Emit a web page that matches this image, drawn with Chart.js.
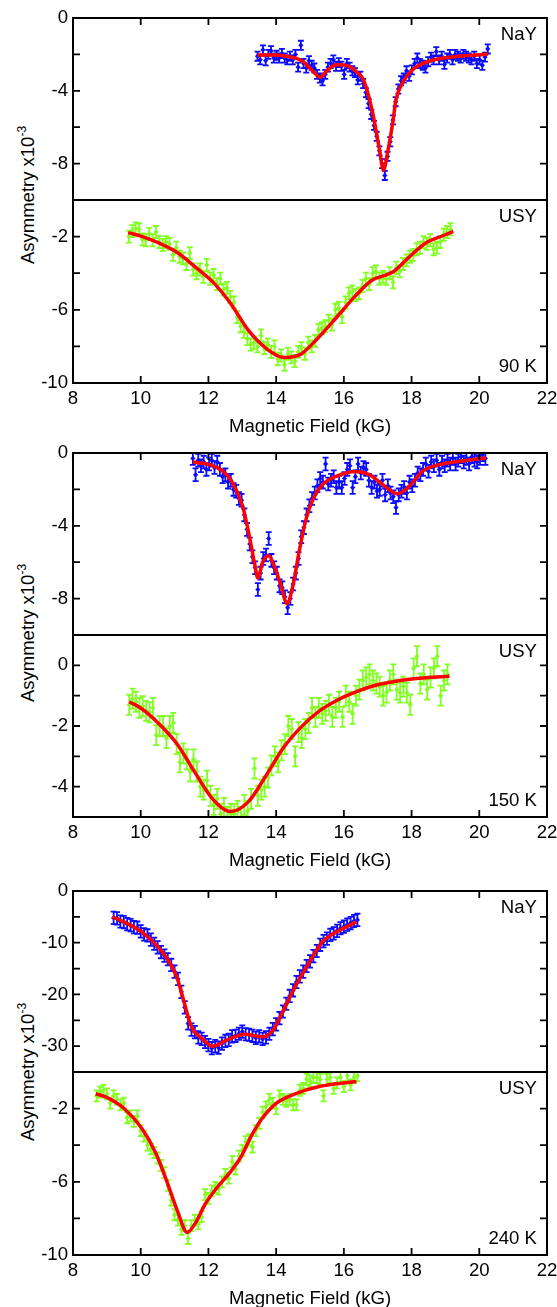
<!DOCTYPE html>
<html>
<head>
<meta charset="utf-8">
<script src="https://cdn.jsdelivr.net/npm/chart.js@4.4.1/dist/chart.umd.min.js"></script>
<style>
  body { margin: 0; background: #fff; width: 557px; height: 1307px; position: relative; overflow: hidden;
         font-family: "Liberation Sans", Arial, sans-serif; }
  canvas { position: absolute; left: 0; top: 0; }
  .ylab { position: absolute; left: 27px; font-size: 18.5px; white-space: nowrap; color: #000;
          transform: translate(-50%, -50%) rotate(-90deg); }
  .ylab sup { font-size: 12px; }
</style>
</head>
<body>
<div class="ylab" style="top:195px">Asymmetry x10<sup>-3</sup></div>
<div class="ylab" style="top:633px">Asymmetry x10<sup>-3</sup></div>
<div class="ylab" style="top:1072px">Asymmetry x10<sup>-3</sup></div>
<script>
// ---- 90 K ----
const nay90Field = [13.45,13.53,13.61,13.69,13.77,13.85,13.93,14.01,14.09,14.17,
  14.25,14.33,14.41,14.49,14.57,14.65,14.73,14.81,14.89,14.97,
  15.05,15.13,15.21,15.29,15.37,15.45,15.53,15.61,15.69,15.77,
  15.85,15.93,16.01,16.09,16.17,16.25,16.33,16.41,16.49,16.57,
  16.65,16.73,16.81,16.89,16.97,17.05,17.13,17.21,17.29,17.37,
  17.45,17.53,17.61,17.69,17.77,17.85,17.93,18.01,18.09,18.17,
  18.25,18.33,18.41,18.49,18.57,18.65,18.73,18.81,18.89,18.97,
  19.05,19.13,19.21,19.29,19.37,19.45,19.53,19.61,19.69,19.77,
  19.85,19.93,20.01,20.09,20.17,20.25];
const nay90Asym = [-2.1,-2.3,-1.75,-2.35,-2.0,-1.8,-2.2,-2.05,-2.2,-1.95,
  -2.2,-2.3,-2.1,-2.3,-2.0,-2.7,-1.5,-2.5,-2.75,-2.35,
  -2.6,-2.75,-3.1,-3.3,-3.45,-3.1,-2.7,-2.5,-2.3,-2.65,
  -2.45,-2.65,-3.1,-2.5,-2.7,-2.9,-3.0,-3.4,-3.2,-3.6,
  -4.1,-4.7,-5.3,-5.9,-6.5,-7.3,-8.0,-8.65,-7.6,-6.8,
  -5.6,-4.6,-3.9,-3.45,-3.3,-2.9,-3.2,-2.85,-2.5,-2.2,
  -2.5,-2.6,-2.75,-2.4,-2.15,-2.3,-1.85,-2.3,-2.1,-2.55,
  -2.2,-2.0,-2.3,-2.0,-2.1,-2.2,-2.0,-2.1,-2.2,-2.3,
  -2.1,-2.5,-2.3,-2.6,-2.15,-1.7];
const nay90Err = 0.25;
const nay90FitField = [13.45,14.0,14.3,14.6,14.8,15.05,15.3,15.5,15.77,16.0,16.2,16.4,16.55,
  16.65,16.85,17.05,17.17,17.3,17.44,17.54,17.73,18.03,18.5,19.2,19.8,20.26];
const nay90FitAsym = [-2.03,-2.03,-2.1,-2.22,-2.4,-2.85,-3.25,-2.9,-2.57,-2.58,-2.7,-3.0,-3.3,
  -3.75,-5.2,-7.2,-8.35,-7.3,-5.8,-4.5,-3.57,-2.84,-2.38,-2.14,-2.05,-1.98];
const nay90Ticks = [0, -4, -8];

const usy90Field = [9.65,9.75,9.85,9.95,10.05,10.15,10.25,10.35,10.45,10.55,
  10.65,10.75,10.85,10.95,11.05,11.15,11.25,11.35,11.45,11.55,
  11.65,11.75,11.85,11.95,12.05,12.15,12.25,12.35,12.45,12.55,
  12.65,12.75,12.85,12.95,13.05,13.15,13.25,13.35,13.45,13.55,
  13.65,13.75,13.85,13.95,14.05,14.15,14.25,14.35,14.45,14.55,
  14.65,14.75,14.85,14.95,15.05,15.15,15.25,15.35,15.45,15.55,
  15.65,15.75,15.85,15.95,16.05,16.15,16.25,16.35,16.45,16.55,
  16.65,16.75,16.85,16.95,17.05,17.15,17.25,17.35,17.45,17.55,
  17.65,17.75,17.85,17.95,18.05,18.15,18.25,18.35,18.45,18.55,
  18.65,18.75,18.85,18.95,19.05,19.15];
const usy90Asym = [-2.0,-1.7,-1.55,-1.6,-2.15,-2.2,-1.85,-2.2,-1.75,-2.3,
  -2.45,-2.3,-2.4,-3.0,-2.6,-3.1,-3.2,-3.5,-2.9,-3.8,
  -4.0,-3.8,-4.2,-3.55,-4.3,-4.1,-4.6,-4.3,-4.9,-4.8,
  -5.3,-5.6,-6.4,-6.9,-7.2,-7.6,-7.9,-7.8,-8.0,-7.4,
  -8.1,-7.9,-8.3,-8.0,-8.7,-8.5,-9.0,-8.4,-8.6,-8.8,
  -8.3,-8.1,-8.4,-7.8,-8.0,-7.7,-7.1,-7.0,-6.9,-6.6,
  -6.8,-6.0,-5.9,-6.4,-5.6,-5.1,-5.0,-5.2,-5.1,-4.7,
  -4.3,-4.6,-4.0,-3.9,-4.3,-4.2,-4.3,-4.0,-4.5,-3.7,
  -3.9,-3.5,-3.3,-3.1,-3.0,-2.7,-2.6,-2.3,-2.4,-2.2,
  -2.7,-2.6,-2.3,-1.9,-1.75,-1.6];
const usy90Err = 0.33;
const usy90FitField = [9.63,10.03,10.55,11.08,11.6,12.12,12.65,13.17,13.7,14.22,14.54,14.75,
  15.27,15.8,16.32,16.84,17.16,17.47,17.89,18.41,18.94,19.23];
const usy90FitAsym = [-1.78,-1.99,-2.36,-2.87,-3.64,-4.46,-5.64,-7.1,-8.1,-8.6,-8.55,-8.4,
  -7.47,-6.38,-5.28,-4.37,-4.15,-3.91,-3.18,-2.36,-1.94,-1.72];
const usy90Ticks = [-2, -6, -10];

// ---- 150 K ----
const nay150Field = [11.54,11.62,11.70,11.78,11.86,11.94,12.02,12.10,12.18,12.26,
  12.34,12.42,12.50,12.58,12.66,12.74,12.82,12.90,12.98,13.06,
  13.14,13.22,13.30,13.38,13.46,13.54,13.62,13.70,13.78,13.86,
  13.94,14.02,14.10,14.18,14.26,14.34,14.42,14.50,14.58,14.66,
  14.74,14.82,14.90,14.98,15.06,15.14,15.22,15.30,15.38,15.46,
  15.54,15.62,15.70,15.78,15.86,15.94,16.02,16.10,16.18,16.26,
  16.34,16.42,16.50,16.58,16.66,16.74,16.82,16.90,16.98,17.06,
  17.14,17.22,17.30,17.38,17.46,17.54,17.62,17.70,17.78,17.86,
  17.94,18.02,18.10,18.18,18.26,18.34,18.42,18.50,18.58,18.66,
  18.74,18.82,18.90,18.98,19.06,19.14,19.22,19.30,19.38,19.46,
  19.54,19.62,19.70,19.78,19.86,19.94,20.02,20.10,20.18];
const nay150Asym = [-0.3,-1.2,-0.4,-0.7,-0.5,-0.9,-0.6,-0.4,-0.8,-0.5,
  -0.9,-1.3,-1.2,-1.6,-1.5,-2.0,-2.1,-2.5,-2.6,-3.4,
  -4.2,-5.0,-5.7,-6.3,-7.5,-6.6,-5.8,-5.6,-4.7,-5.9,
  -6.3,-6.6,-7.3,-7.4,-7.9,-8.5,-8.0,-7.2,-6.6,-5.8,
  -4.6,-4.1,-3.4,-2.9,-2.5,-2.2,-1.8,-1.4,-1.6,-0.6,
  -1.7,-1.5,-1.3,-1.9,-1.6,-1.9,-1.4,-0.9,-0.7,-1.9,
  -1.3,-0.6,-1.1,-0.8,-0.9,-1.5,-1.9,-1.6,-2.1,-2.0,
  -1.5,-2.3,-1.8,-2.2,-2.4,-3.0,-2.3,-2.1,-1.9,-2.2,
  -1.6,-1.8,-1.5,-1.1,-1.2,-0.9,-0.6,-1.0,-0.5,-0.7,
  -0.4,-0.9,-0.5,-0.7,-0.4,-0.6,-0.3,-0.6,-0.4,-0.2,
  -0.5,-0.3,-0.6,-0.2,-0.4,-0.5,-0.3,-0.1,-0.3];
const nay150Err = 0.35;
const nay150FitField = [11.54,12.03,12.43,12.72,13.01,13.21,13.36,13.46,13.6,13.78,13.95,14.15,
  14.32,14.49,14.69,14.88,15.08,15.37,15.77,16.36,16.75,17.15,17.59,17.93,18.32,18.82,19.6,20.2];
const nay150FitAsym = [-0.5,-0.64,-1.0,-1.65,-2.93,-4.58,-6.04,-6.87,-6.0,-5.64,-6.23,-7.33,
  -8.28,-7.33,-5.31,-3.66,-2.57,-1.74,-1.29,-1.02,-1.19,-1.74,-2.24,-1.83,-1.01,-0.64,-0.41,-0.27];
const nay150Ticks = [0, -4, -8];

const usy150Field = [9.66,9.76,9.86,9.96,10.06,10.16,10.26,10.36,10.46,10.56,
  10.66,10.76,10.86,10.96,11.06,11.16,11.26,11.36,11.46,11.56,
  11.66,11.76,11.86,11.96,12.06,12.16,12.26,12.36,12.46,12.56,
  12.66,12.76,12.86,12.96,13.06,13.16,13.26,13.36,13.46,13.56,
  13.66,13.76,13.86,13.96,14.06,14.16,14.26,14.36,14.46,14.56,
  14.66,14.76,14.86,14.96,15.06,15.16,15.26,15.36,15.46,15.56,
  15.66,15.76,15.86,15.96,16.06,16.16,16.26,16.36,16.46,16.56,
  16.66,16.76,16.86,16.96,17.06,17.16,17.26,17.36,17.46,17.56,
  17.66,17.76,17.86,17.96,18.06,18.16,18.26,18.36,18.46,18.56,
  18.66,18.76,18.86,18.96,19.06];
const usy150Asym = [-1.3,-1.1,-1.2,-1.4,-1.35,-1.5,-1.55,-1.4,-2.3,-2.0,
  -2.0,-2.4,-2.0,-1.9,-2.6,-3.2,-2.9,-3.1,-3.5,-3.1,
  -3.5,-4.0,-4.1,-3.8,-4.3,-4.6,-4.4,-4.9,-4.7,-5.0,
  -4.9,-4.9,-4.8,-5.0,-4.6,-4.8,-4.4,-3.4,-4.3,-4.1,
  -4.0,-3.7,-3.3,-3.0,-3.2,-2.8,-2.6,-2.0,-2.1,-3.0,
  -2.2,-2.4,-2.1,-1.9,-1.4,-1.7,-1.4,-1.6,-1.5,-1.3,
  -1.7,-1.4,-1.2,-1.7,-1.0,-1.2,-1.6,-1.0,-0.8,-0.5,
  -0.4,-0.3,-0.5,-0.6,-0.7,-1.0,-0.9,-0.5,-0.3,-0.8,
  -0.9,-0.7,-0.9,-1.3,-0.1,0.3,-0.6,-0.3,-0.8,-0.4,
  -0.1,0.3,-1.0,-0.5,-0.3];
const usy150Err = 0.33;
const usy150FitField = [9.66,10.03,10.55,11.08,11.6,12.12,12.65,13.17,13.7,14.22,14.75,15.27,
  15.8,16.32,16.84,17.37,17.89,18.41,19.12];
const usy150FitAsym = [-1.2,-1.43,-1.94,-2.6,-3.53,-4.4,-4.82,-4.51,-3.64,-2.71,-2.02,-1.51,
  -1.15,-0.89,-0.69,-0.56,-0.47,-0.41,-0.36];
const usy150Ticks = [0, -2, -4];

// ---- 240 K ----
const nay240Field = [9.2,9.3,9.4,9.5,9.6,9.7,9.8,9.9,10.0,10.1,
  10.2,10.3,10.4,10.5,10.6,10.7,10.8,10.9,11.0,11.1,
  11.2,11.3,11.4,11.5,11.6,11.7,11.8,11.9,12.0,12.1,
  12.2,12.3,12.4,12.5,12.6,12.7,12.8,12.9,13.0,13.1,
  13.2,13.3,13.4,13.5,13.6,13.7,13.8,13.9,14.0,14.1,
  14.2,14.3,14.4,14.5,14.6,14.7,14.8,14.9,15.0,15.1,
  15.2,15.3,15.4,15.5,15.6,15.7,15.8,15.9,16.0,16.1,
  16.2,16.3,16.4];
const nay240Asym = [-5.2,-5.3,-5.9,-6.0,-6.4,-6.6,-7.0,-7.1,-7.8,-8.4,
  -8.6,-9.4,-10.2,-10.9,-11.8,-12.5,-13.2,-14.3,-15.6,-17.0,
  -19.5,-22.5,-25.6,-26.8,-27.3,-28.3,-28.6,-29.2,-29.8,-30.4,
  -30.0,-30.3,-29.5,-29.0,-28.8,-28.1,-28.0,-27.6,-27.2,-27.7,
  -27.8,-28.0,-28.4,-28.1,-28.6,-28.3,-27.6,-26.7,-25.8,-24.6,
  -23.3,-21.8,-20.3,-19.2,-17.6,-16.5,-15.6,-14.5,-13.6,-12.6,
  -11.6,-10.4,-9.7,-9.2,-8.5,-8.2,-7.7,-7.2,-6.9,-6.5,
  -6.2,-5.8,-5.6];
const nay240Err = 1.2;
const nay240FitField = [9.17,9.5,10.03,10.55,10.87,11.08,11.29,11.5,11.81,12.12,12.55,13.07,
  13.59,13.91,14.22,14.54,14.96,15.37,15.79,16.37];
const nay240FitAsym = [-5.0,-5.98,-7.9,-11.1,-14.0,-16.9,-21.7,-26.3,-28.5,-30.0,-28.8,-27.7,
  -28.2,-26.9,-23.0,-18.8,-14.0,-9.8,-7.9,-5.98];
const nay240Ticks = [0, -10, -20, -30];

const usy240Field = [8.7,8.8,8.9,9.0,9.1,9.2,9.3,9.4,9.5,9.6,
  9.7,9.8,9.9,10.0,10.1,10.2,10.3,10.4,10.5,10.6,
  10.7,10.8,10.9,11.0,11.1,11.2,11.3,11.4,11.5,11.6,
  11.7,11.8,11.9,12.0,12.1,12.2,12.3,12.4,12.5,12.6,
  12.7,12.8,12.9,13.0,13.1,13.2,13.3,13.4,13.5,13.6,
  13.7,13.8,13.9,14.0,14.1,14.2,14.3,14.4,14.5,14.6,
  14.7,14.8,14.9,15.0,15.1,15.2,15.3,15.4,15.5,15.6,
  15.7,15.8,15.9,16.0,16.1,16.2,16.3,16.4];
const usy240Asym = [-1.3,-1.1,-1.0,-1.2,-1.7,-1.3,-1.5,-1.8,-1.7,-2.5,
  -2.4,-2.7,-2.4,-3.2,-3.5,-4.0,-4.2,-4.4,-4.7,-5.1,
  -5.5,-6.2,-7.0,-7.8,-8.1,-8.6,-8.4,-9.1,-8.4,-8.1,
  -8.3,-7.9,-6.7,-6.9,-6.5,-6.3,-6.4,-6.0,-5.6,-5.8,
  -4.9,-5.3,-4.6,-4.3,-3.8,-3.7,-4.1,-3.2,-2.8,-2.2,
  -1.9,-1.5,-1.7,-2.0,-1.3,-1.5,-1.6,-1.5,-1.8,-1.8,
  -1.0,-0.9,-0.4,-0.5,-0.3,-0.3,-0.4,-1.3,-0.4,-0.3,
  -0.9,-0.6,-0.3,-0.8,-0.2,-0.7,-0.3,-0.2];
const usy240Err = 0.3;
const usy240FitField = [8.67,8.98,9.5,10.03,10.45,10.76,11.08,11.37,11.6,11.91,12.23,12.65,
  12.96,13.28,13.59,14.01,14.54,15.27,16.37];
const usy240FitAsym = [-1.19,-1.37,-1.98,-3.08,-4.45,-5.92,-7.57,-8.76,-8.3,-7.2,-6.37,-5.46,
  -4.64,-3.45,-2.53,-1.7,-1.21,-0.79,-0.52];
const usy240Ticks = [-2, -6, -10];

const BLUE = "#0a0aff";
const GREEN = "#80ff20";
const RED = "#ff0000";
const FONT = '"Liberation Sans", Arial, sans-serif';
const FS = 18.6;
const PAD = 20, PLOT_L = 73, PLOT_W = 474, X_H = 55;

Chart.defaults.font.family = FONT;
Chart.defaults.color = "#000";

function zip(xs, ys) {
    return xs.map((x, i) => ({ x: x, y: ys[i] }));
}

// frame, inward ticks, error bars and panel tags
const panelDeco = {
    id: "panelDeco",
    beforeDatasetsDraw(chart, args, opts) {
        const { ctx, chartArea: a, scales: { x, y } } = chart;
        const ds = chart.data.datasets[1];
        ctx.save();
        ctx.beginPath();
        ctx.rect(a.left, a.top, a.width, a.height);
        ctx.clip();
        ctx.strokeStyle = ds.backgroundColor;
        ctx.lineWidth = 1.8;
        ds.data.forEach(p => {
            const px = x.getPixelForValue(p.x);
            const y1 = y.getPixelForValue(p.y - opts.err);
            const y2 = y.getPixelForValue(p.y + opts.err);
            ctx.beginPath();
            ctx.moveTo(px, y1); ctx.lineTo(px, y2);
            ctx.moveTo(px - 3, y1); ctx.lineTo(px + 3, y1);
            ctx.moveTo(px - 3, y2); ctx.lineTo(px + 3, y2);
            ctx.stroke();
        });
        ctx.restore();
    },
    afterDraw(chart, args, opts) {
        const { ctx, chartArea: a, scales: { x, y } } = chart;
        ctx.save();
        ctx.strokeStyle = "#000";
        ctx.lineWidth = 2;
        ctx.strokeRect(a.left, a.top, a.width, a.height);
        ctx.lineWidth = 1.8;
        ctx.beginPath();
        y.ticks.forEach(t => {
            if (t.value <= y.min || t.value >= y.max) return;
            const py = y.getPixelForValue(t.value);
            ctx.moveTo(a.left, py); ctx.lineTo(a.left + 7, py);
            ctx.moveTo(a.right, py); ctx.lineTo(a.right - 7, py);
        });
        x.ticks.forEach(t => {
            if (t.value <= x.min || t.value >= x.max) return;
            const px = x.getPixelForValue(t.value);
            if (opts.topTicks) { ctx.moveTo(px, a.top); ctx.lineTo(px, a.top + 7); }
            if (opts.bottomTicks) { ctx.moveTo(px, a.bottom); ctx.lineTo(px, a.bottom - 7); }
        });
        ctx.stroke();
        ctx.fillStyle = "#000";
        ctx.font = FS + "px " + FONT;
        ctx.textAlign = "right";
        ctx.textBaseline = "middle";
        if (opts.tagTop) ctx.fillText(opts.tagTop, a.right - 10, a.top + 16.5);
        if (opts.tagBottom) ctx.fillText(opts.tagBottom, a.right - 10, a.bottom - 16.5);
        ctx.restore();
    }
};

const panels = [
    { top: 18, height: 182, field: nay90Field, asym: nay90Asym, err: nay90Err,
      fitField: nay90FitField, fitAsym: nay90FitAsym, color: BLUE, min: -10, max: 0, step: 2,
      labels: nay90Ticks, tagTop: "NaY", topTicks: true, showX: false },
    { top: 200, height: 183, field: usy90Field, asym: usy90Asym, err: usy90Err,
      fitField: usy90FitField, fitAsym: usy90FitAsym, color: GREEN, min: -10, max: 0, step: 2,
      labels: usy90Ticks, tagTop: "USY", tagBottom: "90 K", showX: true },
    { top: 453, height: 182, field: nay150Field, asym: nay150Asym, err: nay150Err,
      fitField: nay150FitField, fitAsym: nay150FitAsym, color: BLUE, min: -10, max: 0, step: 2,
      labels: nay150Ticks, tagTop: "NaY", topTicks: true, showX: false },
    { top: 635, height: 182, field: usy150Field, asym: usy150Asym, err: usy150Err,
      fitField: usy150FitField, fitAsym: usy150FitAsym, color: GREEN, min: -5, max: 1, step: 1,
      labels: usy150Ticks, tagTop: "USY", tagBottom: "150 K", showX: true },
    { top: 891, height: 181, field: nay240Field, asym: nay240Asym, err: nay240Err,
      fitField: nay240FitField, fitAsym: nay240FitAsym, color: BLUE, min: -35, max: 0, step: 5,
      labels: nay240Ticks, tagTop: "NaY", topTicks: true, showX: false },
    { top: 1072, height: 183, field: usy240Field, asym: usy240Asym, err: usy240Err,
      fitField: usy240FitField, fitAsym: usy240FitAsym, color: GREEN, min: -10, max: 0, step: 2,
      labels: usy240Ticks, tagTop: "USY", tagBottom: "240 K", showX: true }
];

function config(p) {
    return {
        type: "scatter",
        data: {
            datasets: [
                {
                    data: zip(p.fitField, p.fitAsym),
                    showLine: true,
                    borderColor: RED,
                    borderWidth: 3.5,
                    pointRadius: 0,
                    cubicInterpolationMode: "monotone",
                    order: 0
                },
                {
                    data: zip(p.field, p.asym),
                    pointStyle: "rectRot",
                    pointRadius: 2.6,
                    borderWidth: 0,
                    backgroundColor: p.color,
                    order: 1
                }
            ]
        },
        options: {
            responsive: false,
            animation: false,
            events: [],
            layout: { padding: { left: 0, right: 30, top: PAD, bottom: p.showX ? 0 : PAD } },
            plugins: {
                legend: { display: false },
                tooltip: { enabled: false },
                panelDeco: { err: p.err, tagTop: p.tagTop, tagBottom: p.tagBottom,
                             topTicks: p.topTicks, bottomTicks: p.showX }
            },
            scales: {
                x: {
                    type: "linear", min: 8, max: 22,
                    grid: { display: false, drawTicks: false },
                    border: { display: false },
                    ticks: { stepSize: 2, display: p.showX, padding: 5, font: { size: FS }, maxRotation: 0 },
                    title: { display: p.showX, text: "Magnetic Field (kG)", font: { size: FS }, padding: 0 },
                    afterFit: s => { s.height = p.showX ? X_H : 0; }
                },
                y: {
                    type: "linear", min: p.min, max: p.max,
                    grid: { display: false, drawTicks: false },
                    border: { display: false },
                    ticks: {
                        stepSize: p.step, padding: 5, autoSkip: false, font: { size: FS },
                        callback: v => p.labels.includes(v) ? String(v) : ""
                    },
                    afterFit: s => { s.width = PLOT_L; }
                }
            }
        },
        plugins: [panelDeco]
    };
}

function makePanel(p) {
    const cv = document.createElement("canvas");
    document.body.appendChild(cv);
    let w = PLOT_L + PLOT_W + 30;
    let h = PAD + p.height + (p.showX ? X_H : PAD);
    let chart;
    for (let i = 0; i < 3; i++) {
        cv.width = w; cv.height = h;
        chart = new Chart(cv, config(p));
        const a = chart.chartArea;
        const dw = PLOT_W - (a.right - a.left);
        const dh = p.height - (a.bottom - a.top);
        if (Math.abs(dw) < 0.5 && Math.abs(dh) < 0.5) break;
        chart.destroy();
        w += dw; h += dh;
    }
    cv.style.left = (PLOT_L - chart.chartArea.left) + "px";
    cv.style.top = (p.top - chart.chartArea.top) + "px";
}

panels.forEach(makePanel);
</script>
</body>
</html>
